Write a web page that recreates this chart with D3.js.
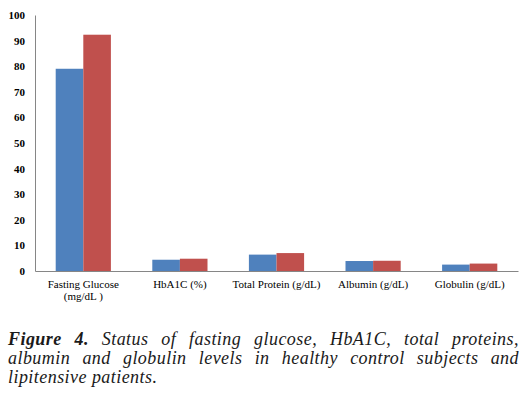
<!DOCTYPE html>
<html><head><meta charset="utf-8">
<script src="https://cdn.jsdelivr.net/npm/d3@7"></script>
<style>body{margin:0;background:#fff;} svg{display:block;} text{font-family:"Liberation Serif","Times New Roman",serif;}</style>
</head><body>
<script>
const categories = [["Fasting Glucose","(mg/dL )"],["HbA1C (%)"],["Total Protein (g/dL)"],["Albumin (g/dL)"],["Globulin (g/dL)"]];
const controlValues = [79, 4.4, 6.4, 3.9, 2.5];
const patientValues = [92.3, 4.8, 7.0, 4.0, 2.9];
const yTicks = [0,10,20,30,40,50,60,70,80,90,100];
const captionLines = [
  [["Figure", true], ["4.", true], ["Status", false], ["of", false], ["fasting", false], ["glucose,", false], ["HbA1C,", false], ["total", false], ["proteins,", false]],
  [["albumin", false], ["and", false], ["globulin", false], ["levels", false], ["in", false], ["healthy", false], ["control", false], ["subjects", false], ["and", false]],
  [["lipitensive", false], ["patients.", false]]
];

const W = 530, H = 400;
const svg = d3.select("body").append("svg").attr("width", W).attr("height", H);
const m = {l: 35, r: 12, t: 15, b: 129};
const x = d3.scaleBand().domain(d3.range(categories.length)).range([m.l, W - m.r]).paddingInner(0).paddingOuter(0);
const y = d3.scaleLinear().domain([0, 100]).range([H - m.b, m.t]);
const gw = x.bandwidth() / 1.75;
const xs = d3.scaleBand().domain([0,1]).range([0, gw]);

const g = svg.append("g");
const series = [controlValues, patientValues];
const colors = ["#4F81BD", "#C0504D"];
series.forEach((vals, si) => {
  g.selectAll(null).data(vals).enter().append("rect")
    .attr("x", (d,i) => x(i) + (x.bandwidth() - gw)/2 + xs(si))
    .attr("width", xs.bandwidth())
    .attr("y", d => y(d))
    .attr("height", d => y(0) - y(d))
    .attr("fill", colors[si]);
});

const serif = '"Liberation Serif","Times New Roman",serif';
const ya = svg.append("g").attr("transform", `translate(${m.l},0)`)
  .call(d3.axisLeft(y).tickValues(yTicks).tickSize(0).tickPadding(10));
ya.attr("font-family", null);
ya.select(".domain").attr("stroke", "#868686");
ya.selectAll("text").style("font-family", serif).attr("font-size", 11).attr("font-weight", "bold").attr("fill", "#000");

const xa = svg.append("g").attr("transform", `translate(0,${y(0)})`)
  .call(d3.axisBottom(x).tickSize(0).tickFormat(""));
xa.attr("font-family", null);
xa.select(".domain").attr("stroke", "#868686");
xa.selectAll(".tick").each(function(d){
  const t = d3.select(this).select("text").text(null)
    .style("font-family", serif).attr("font-size", 11).attr("fill", "#000").attr("y", 0).attr("dy", null);
  categories[d].forEach((line, li) => {
    t.append("tspan").attr("x", 0).attr("y", 17 + li * 12).text(line);
  });
});

// caption, justified
const left = 8, right = 519;
const capSize = 18, ls = 0.45;
const cap = svg.append("g");
const measure = cap.append("text").style("font-family", serif).attr("font-style", "italic").attr("font-size", capSize);
function wid(t, b) { measure.attr("font-weight", b ? "bold" : "normal").text(t); return measure.node().getComputedTextLength() + ls * t.length; }
const space = (wid("a b", false) - wid("ab", false));
const baselines = [345, 364, 383];
captionLines.forEach((ln, li) => {
  const ws = ln.map(w => wid(w[0], w[1]));
  const tot = d3.sum(ws);
  const last = li === captionLines.length - 1;
  const gap = !last ? (right - left - tot) / (ln.length - 1) : space;
  let px = left;
  ln.forEach((w, wi) => {
    cap.append("text").attr("x", px).attr("y", baselines[li])
      .style("font-family", serif).style("letter-spacing", ls + "px").attr("font-size", capSize).attr("font-style", "italic")
      .attr("font-weight", w[1] ? "bold" : "normal").attr("fill", "#1a1a1a").text(w[0]);
    px += ws[wi] + gap;
  });
});
measure.remove();
</script>
</body></html>
